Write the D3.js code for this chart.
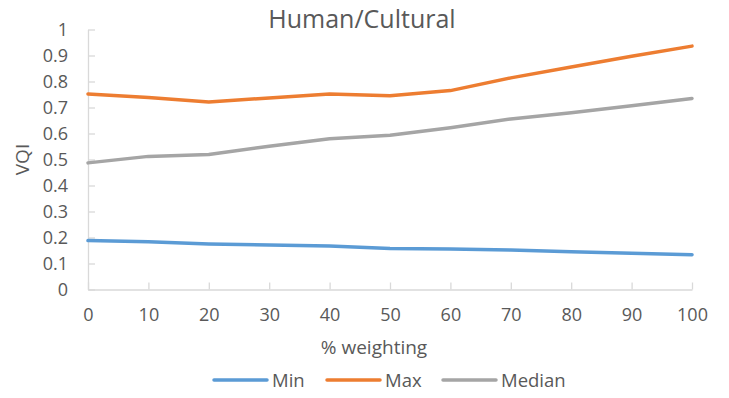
<!DOCTYPE html>
<html>
<head>
<meta charset="utf-8">
<script src="https://cdn.jsdelivr.net/npm/d3@7"></script>
<style>
  html, body { margin: 0; padding: 0; background: #fff; }
  svg text { font-family: "Open Sans", Lato, sans-serif; fill: #595959; }
</style>
</head>
<body>
<svg id="chart" width="729" height="398"></svg>
<script>
// Weighting steps (%)
const weighting = [0, 10, 20, 30, 40, 50, 60, 70, 80, 90, 100];
// VQI summary series per weighting step
const minVals    = [0.188, 0.184, 0.175, 0.171, 0.167, 0.158, 0.156, 0.152, 0.145, 0.139, 0.134];
const maxVals    = [0.752, 0.738, 0.721, 0.737, 0.752, 0.745, 0.765, 0.814, 0.856, 0.897, 0.936];
const medianVals = [0.487, 0.512, 0.519, 0.551, 0.580, 0.593, 0.622, 0.656, 0.680, 0.707, 0.735];
const yTicks = [0, 0.1, 0.2, 0.3, 0.4, 0.5, 0.6, 0.7, 0.8, 0.9, 1];
const seriesNames = ["Min", "Max", "Median"];
const seriesColors = ["#5B9BD5", "#ED7D31", "#A5A5A5"];

const series = [minVals, maxVals, medianVals].map((vals, i) => ({
  name: seriesNames[i], color: seriesColors[i],
  points: vals.map((v, j) => ({ x: weighting[j], y: v }))
}));

const svg = d3.select("#chart");
const plotLeft = 88, plotRight = 692, plotTop = 29.5, plotBottom = 289.5;

const x = d3.scaleLinear().domain([0, 100]).range([plotLeft, plotRight]);
const y = d3.scaleLinear().domain([0, 1]).range([plotBottom, plotTop]);

// Title
svg.append("text").attr("x", 362).attr("y", 28)
  .attr("text-anchor", "middle").style("font-size", "25px").text("Human/Cultural");

// Y axis: ticks point inward
const yAxis = svg.append("g").attr("transform", `translate(${plotLeft},0)`)
  .call(d3.axisLeft(y).tickValues(yTicks).tickSizeInner(-7).tickSizeOuter(0).tickPadding(20)
    .tickFormat(d => d3.format("~g")(d)));
yAxis.select(".domain").attr("stroke", "#d9d9d9").attr("stroke-width", 1.3);
yAxis.selectAll(".tick line").attr("stroke", "#d9d9d9").attr("stroke-width", 1.3);
yAxis.selectAll(".tick text").style("font-size", "18px").attr("fill", "#595959")
  .attr("dy", "0.36em");

// X axis: ticks point inward
const xAxis = svg.append("g").attr("transform", `translate(0,${plotBottom})`)
  .call(d3.axisBottom(x).tickValues(weighting).tickSizeInner(-7).tickSizeOuter(0).tickPadding(19));
xAxis.select(".domain").attr("stroke", "#d9d9d9").attr("stroke-width", 1.3);
xAxis.selectAll(".tick line").attr("stroke", "#d9d9d9").attr("stroke-width", 1.3);
xAxis.selectAll(".tick text").style("font-size", "18px").attr("fill", "#595959");

// Axis titles
svg.append("text").attr("x", 374).attr("y", 354)
  .attr("text-anchor", "middle").style("font-size", "19px").text("% weighting");
svg.append("text").attr("transform", `translate(29,${(plotTop + plotBottom) / 2}) rotate(-90)`)
  .attr("text-anchor", "middle").style("font-size", "19px").text("VQI");

// Series lines
const line = d3.line().x(d => x(d.x)).y(d => y(d.y));
svg.append("g").selectAll("path").data(series).join("path")
  .attr("d", d => line(d.points))
  .attr("fill", "none").attr("stroke", d => d.color)
  .attr("stroke-width", 3.5).attr("stroke-linecap", "round").attr("stroke-linejoin", "round");

// Legend
const legendX = [214, 327, 443];
const legend = svg.append("g").selectAll("g").data(series).join("g")
  .attr("transform", (d, i) => `translate(${legendX[i]},380)`);
legend.append("line").attr("x1", 0).attr("x2", 53).attr("y1", 0).attr("y2", 0)
  .attr("stroke", d => d.color).attr("stroke-width", 3.5).attr("stroke-linecap", "round");
legend.append("text").attr("x", 58).attr("y", 7).style("font-size", "18.5px").text(d => d.name);
</script>
</body>
</html>
